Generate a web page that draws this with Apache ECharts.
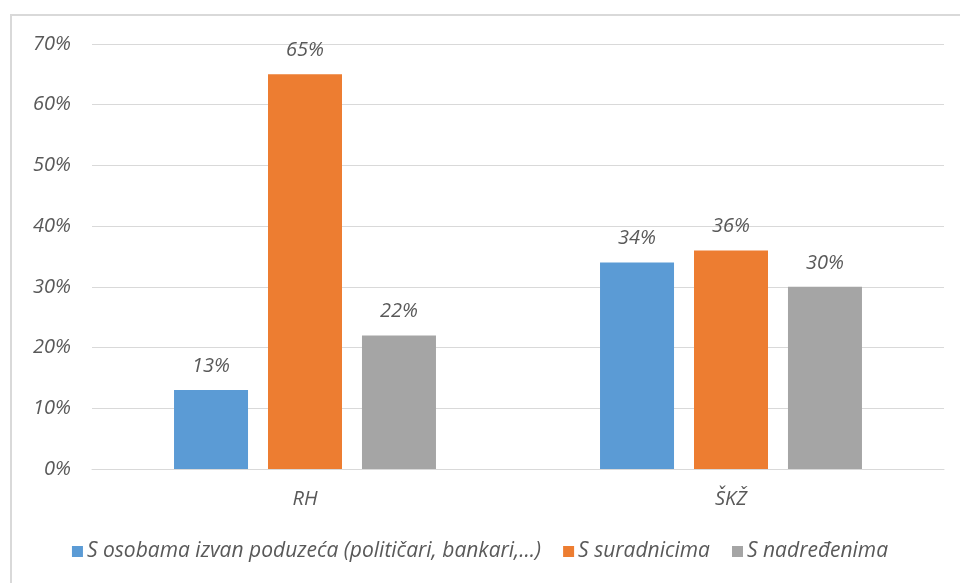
<!DOCTYPE html>
<html>
<head>
<meta charset="utf-8">
<script src="https://cdn.jsdelivr.net/npm/echarts@6/dist/echarts.min.js"></script>
<style>
  html, body { margin: 0; padding: 0; background: #fff; }
  #chart { width: 960px; height: 583px; }
  .frame { position: absolute; left: 10px; top: 14px; width: 960px; height: 600px; border: 2px solid #d9d9d9; box-sizing: border-box; pointer-events: none; }
</style>
</head>
<body>
<div id="chart"></div>
<div class="frame"></div>
<script>
var categories = ['RH', 'ŠKŽ']
var seriesNames = ['S osobama izvan poduzeća (političari, bankari,...)', 'S suradnicima', 'S nadređenima']
var outsiders = [13, 34]
var coworkers = [65, 36]
var superiors = [22, 30]
var colors = ['#5B9BD5', '#ED7D31', '#A5A5A5']

var myChart = echarts.init(document.getElementById('chart'))
var font = '"Open Sans", Lato, sans-serif'
var labelStyle = {
  show: true,
  position: 'top',
  distance: 14,
  formatter: '{c}%',
  color: '#595959',
  fontStyle: 'italic',
  fontSize: 20,
  fontFamily: font
}
var data = [outsiders, coworkers, superiors]
var option = {
  color: colors,
  animation: false,
  grid: { left: 92, right: 16, top: 44, bottom: 114 },
  legend: {
    bottom: 16,
    left: 'center',
    itemWidth: 11,
    itemHeight: 11,
    itemGap: 22,
    icon: 'rect',
    textStyle: { color: '#595959', fontStyle: 'italic', fontSize: 21, fontFamily: font, padding: [0, 0, 0, -1] }
  },
  xAxis: {
    type: 'category',
    data: categories,
    axisTick: { show: false },
    axisLine: { lineStyle: { color: '#d9d9d9', width: 1 } },
    axisLabel: { color: '#595959', fontStyle: 'italic', fontSize: 20, fontFamily: font, margin: 20 }
  },
  yAxis: {
    type: 'value',
    min: 0,
    max: 70,
    interval: 10,
    axisLine: { show: false },
    axisTick: { show: false },
    axisLabel: { formatter: '{value}%', color: '#595959', fontStyle: 'italic', fontSize: 20, fontFamily: font, margin: 21 },
    splitLine: { lineStyle: { color: '#d9d9d9' } }
  },
  series: []
}
seriesNames.forEach(function (name, i) {
  option.series.push({
    name: name,
    type: 'bar',
    barWidth: 74,
    barGap: '27%',
    label: labelStyle,
    data: data[i]
  })
})
myChart.setOption(option)
</script>
</body>
</html>
